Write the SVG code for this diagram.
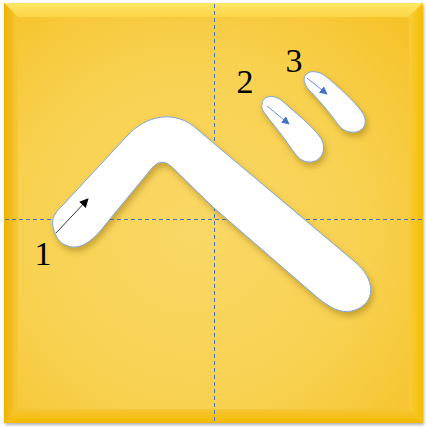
<svg xmlns="http://www.w3.org/2000/svg" width="427" height="427" viewBox="0 0 427 427">
<defs>
<radialGradient id="bg" cx="0.45" cy="0.55" r="0.7">
<stop offset="0" stop-color="#F9D866"/>
<stop offset="0.6" stop-color="#F8D150"/>
<stop offset="1" stop-color="#F6C32A"/>
</radialGradient>
<linearGradient id="top" x1="0" y1="0" x2="0" y2="1">
<stop offset="0" stop-color="#FFE766"/>
<stop offset="1" stop-color="#FBD547"/>
</linearGradient>
<linearGradient id="left" x1="0" y1="0" x2="1" y2="0">
<stop offset="0" stop-color="#EDB300"/>
<stop offset="1" stop-color="#F6C83A"/>
</linearGradient>
<linearGradient id="right" x1="0" y1="0" x2="1" y2="0">
<stop offset="0" stop-color="#F8CB3C"/>
<stop offset="1" stop-color="#F6BF00"/>
</linearGradient>
<linearGradient id="bottom" x1="0" y1="0" x2="0" y2="1">
<stop offset="0" stop-color="#F7C838"/>
<stop offset="1" stop-color="#F3B900"/>
</linearGradient>
<filter id="sh" x="-20%" y="-20%" width="150%" height="150%">
<feDropShadow dx="2" dy="4" stdDeviation="3" flood-color="#7a5a00" flood-opacity="0.4"/>
</filter>
<filter id="bsh" x="-5%" y="-5%" width="110%" height="110%">
<feDropShadow dx="1" dy="2" stdDeviation="1.5" flood-color="#000" flood-opacity="0.3"/>
</filter>
<marker id="ab" viewBox="0 0 10 10" refX="9" refY="5" markerWidth="9" markerHeight="9" markerUnits="userSpaceOnUse" orient="auto">
<path d="M0,0 L10,5 L0,10 Z" fill="#000"/>
</marker>
<marker id="au" viewBox="0 0 10 10" refX="9" refY="5" markerWidth="8" markerHeight="8" markerUnits="userSpaceOnUse" orient="auto">
<path d="M0,0 L10,5 L0,10 Z" fill="#4472C4"/>
</marker>
</defs>
<style>
.stroke{fill:#fff;stroke:#7EA6D6;stroke-width:1;filter:url(#sh)}
.guide{stroke:#4472C4;stroke-width:1;stroke-dasharray:4,3;fill:none}
.num{font-family:"Liberation Serif","Times New Roman",serif;font-size:34px;fill:#000}
</style>
<g id="background">
<rect x="4" y="3" width="419" height="420" fill="url(#bg)" filter="url(#bsh)"/>
<polygon points="4,3 423,3 409,17 18,17" fill="url(#top)"/>
<polygon points="4,3 18,17 18,409 4,423" fill="url(#left)"/>
<polygon points="423,3 423,423 409,409 409,17" fill="url(#right)"/>
<polygon points="4,423 18,409 409,409 423,423" fill="url(#bottom)"/>
</g>
<g id="guides">
<line class="guide" x1="214.5" y1="4" x2="214.5" y2="423"/>
<line class="guide" x1="5" y1="219.5" x2="423" y2="219.5"/>
</g>
<g id="stroke1">
<path class="stroke" d="M55,233 C50,222 53,214 62,206 L127,136 C145,116 175,108 198,130 L355,262 C375,278 378,304 352,311 C340,314 328,306 318,298 L213,207 L172,167 C165,160 158,161 152,168 L105,225 C92,242 80,250 68,246 C61,244 57,239 55,233 Z"/>
</g>
<g id="stroke2">
<path class="stroke" d="M262,104 C262,96 273,94 281,100 C295,112 312,126 320,137 C328,148 322,163 308,162 C300,161 296,155 291,148 C283,136 273,124 266,115 C263,111 261,108 262,104 Z"/>
</g>
<g id="stroke3">
<path class="stroke" d="M304,79 C305,70 316,70 324,75 C338,86 355,102 362,112 C370,124 362,134 350,132 C343,131 339,126 334,119 C326,108 316,97 309,90 C306,86 304,83 304,79 Z"/>
</g>
<g id="connectors">
<line x1="56" y1="233" x2="88" y2="199" stroke="#000" stroke-width="0.8" marker-end="url(#ab)"/>
<line x1="267" y1="106" x2="289" y2="124" stroke="#4472C4" stroke-width="0.8" marker-end="url(#au)"/>
<line x1="307" y1="78" x2="327" y2="94" stroke="#4472C4" stroke-width="0.8" marker-end="url(#au)"/>
</g>
<g id="labels">
<text class="num" x="43" y="265" text-anchor="middle">1</text>
<text class="num" x="245" y="93" text-anchor="middle">2</text>
<text class="num" x="294" y="72" text-anchor="middle">3</text>
</g>
</svg>
